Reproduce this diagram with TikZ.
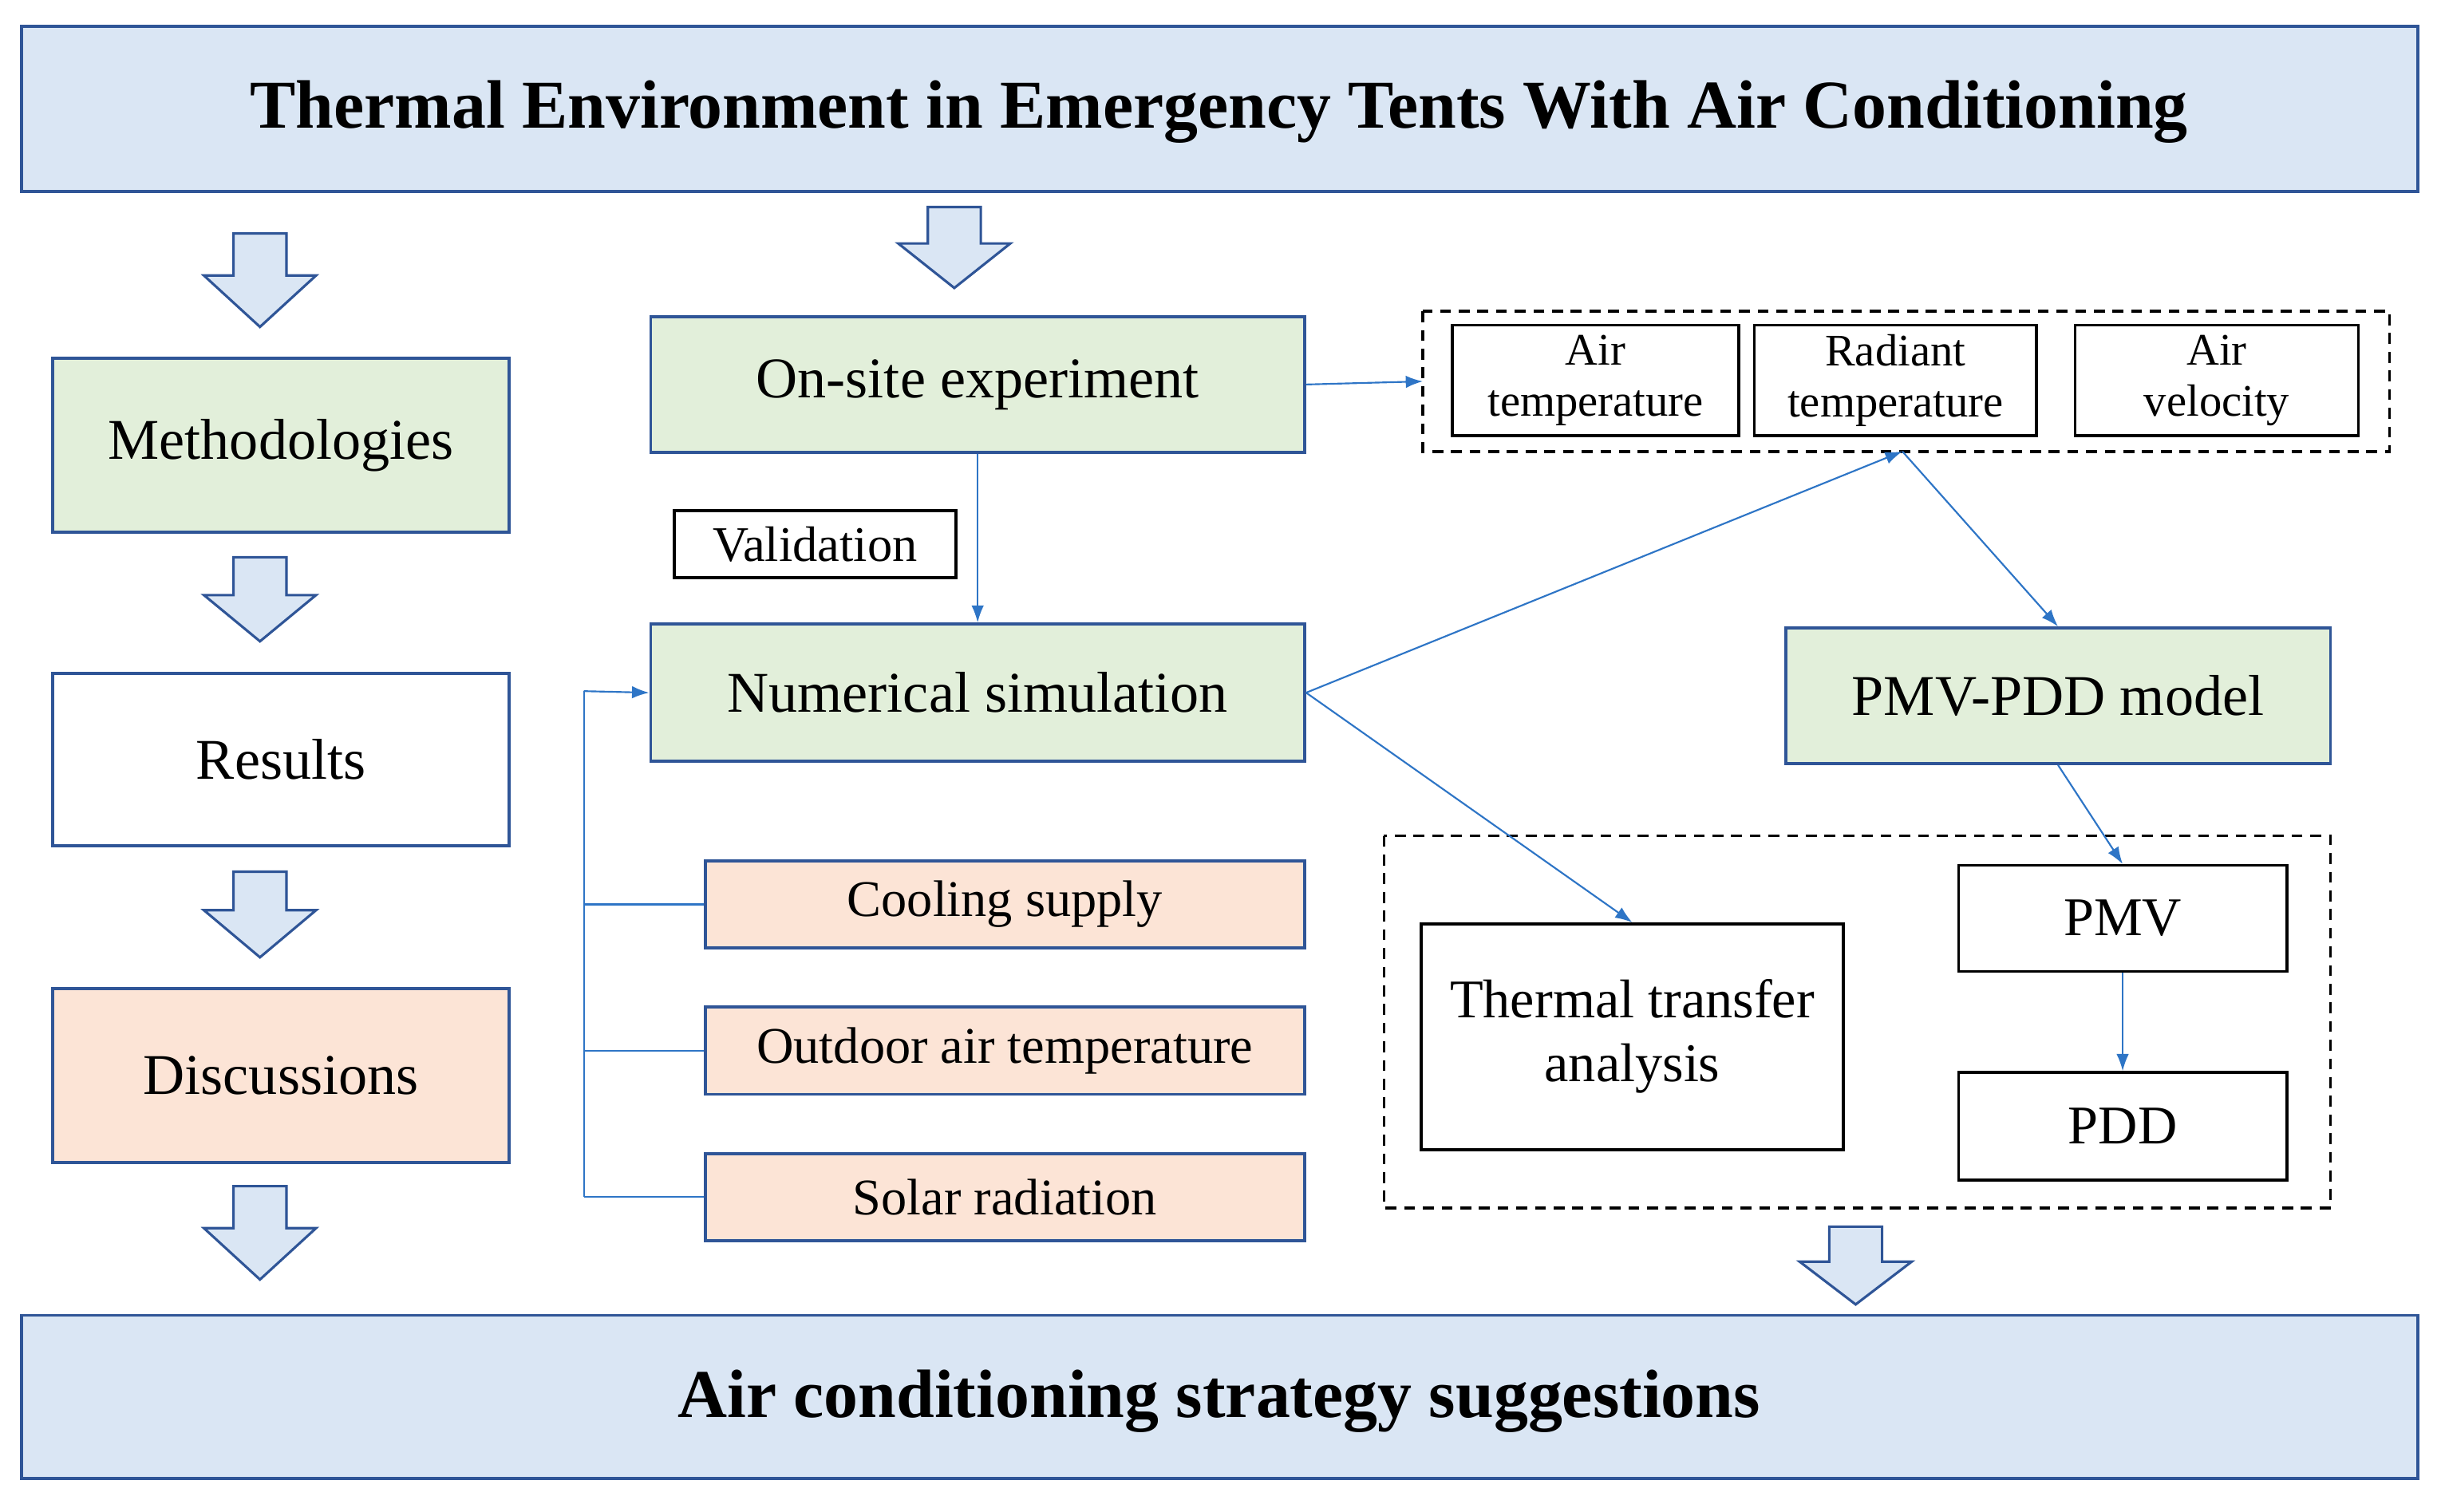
\documentclass[tikz,border=0pt]{standalone}
\usepackage{fontspec}
\setmainfont{Liberation Serif}
\usetikzlibrary{arrows.meta}
\definecolor{bb}{HTML}{2F5597}
\definecolor{lb}{HTML}{DAE6F4}
\definecolor{lg}{HTML}{E2EFDA}
\definecolor{lo}{HTML}{FCE4D6}
\definecolor{ln}{HTML}{2E75C6}
\tikzset{
 box/.style={draw=bb,line width=2pt,inner sep=0pt},
 wbox/.style={draw=black,line width=1.8pt,inner sep=0pt},
 big/.style={font=\fontsize{37}{40}\selectfont},
 small/.style={font=\fontsize{29}{30}\selectfont,align=center},
 conn/.style={draw=ln,line width=1.1pt,-{Latex[length=11pt,width=8pt]}},
 plain/.style={draw=ln,line width=1.1pt},
 dbox/.style={draw=black,line width=1.8pt,dash pattern=on 7pt off 5pt},
}
\newcommand{\barrow}[3]{% x, ytop, ybottom
 \draw[bb,line width=1.6pt,fill=lb] (#1-17,#2) -- (#1+17,#2) -- (#1+17,{#2+0.45*(#3-#2)}) -- (#1+36,{#2+0.45*(#3-#2)}) -- (#1,#3) -- (#1-36,{#2+0.45*(#3-#2)}) -- (#1-17,{#2+0.45*(#3-#2)}) -- cycle;}
\begin{document}
\begin{tikzpicture}[x=1pt,y=-1pt]
\useasboundingbox (0,0) rectangle (1568,971);
\draw[box,fill=lb] (14,17) rectangle (1553,123);
\node[font=\fontsize{44}{48}\selectfont\bfseries] (t) at (783,72) {Thermal Environment in Emergency Tents With Air Conditioning};
\draw[box,fill=lb] (14,845) rectangle (1553,950);
\node[font=\fontsize{44}{48}\selectfont\bfseries] (b) at (783,900) {Air conditioning strategy suggestions};

\node[box,fill=lg,big,minimum width=293pt,minimum height=112pt] (m) at (180.5,286) {Methodologies};
\node[box,fill=white,big,minimum width=293pt,minimum height=111pt] (r) at (180.5,488) {Results};
\node[box,fill=lo,big,minimum width=293pt,minimum height=112pt] (d) at (180.5,691) {Discussions};
\barrow{167}{150}{210}
\barrow{167}{358}{412}
\barrow{167}{560}{615}
\barrow{167}{762}{822}
\barrow{613}{133}{185}
\barrow{1192}{788}{838}

\node[box,fill=lg,big,minimum width=420pt,minimum height=87pt] (os) at (628,247) {On-site experiment};
\node[box,fill=lg,big,minimum width=420pt,minimum height=88pt] (ns) at (628,445) {Numerical simulation};
\node[wbox,font=\fontsize{32}{34}\selectfont,minimum width=181pt,minimum height=43pt] (v) at (523.5,349.5) {Validation};

\draw[dbox] (914,200) rectangle (1535,290);
\coordinate (dw) at (914,245);
\node[wbox,small,minimum width=184pt,minimum height=71pt] (at) at (1025,244.5) {Air\\[3pt]temperature};
\node[wbox,small,minimum width=181pt,minimum height=71pt] (rt) at (1217.5,244.5) {Radiant\\[3pt]temperature};
\node[wbox,small,minimum width=182pt,minimum height=71pt] (av) at (1424,244.5) {Air\\[3pt]velocity};
\coordinate (rb) at (1222,290);

\node[box,fill=lg,big,minimum width=350pt,minimum height=87pt] (pp) at (1322,447) {PMV-PDD model};
\draw[dbox] (889,537) rectangle (1497,776);
\node[wbox,big,align=center,minimum width=271pt,minimum height=145pt,font=\fontsize{35}{41}\selectfont] (tt) at (1048.5,666) {Thermal transfer\\analysis};
\node[wbox,big,minimum width=211pt,minimum height=68pt,font=\fontsize{35}{40}\selectfont] (pmv) at (1363.5,590) {PMV};
\node[wbox,big,minimum width=211pt,minimum height=69pt,font=\fontsize{35}{40}\selectfont] (pdd) at (1363.5,723.5) {PDD};

\node[box,fill=lo,font=\fontsize{33}{36}\selectfont,minimum width=385pt,minimum height=56pt] (c) at (645.5,581) {Cooling supply};
\node[box,fill=lo,font=\fontsize{33}{36}\selectfont,minimum width=385pt,minimum height=56pt] (o) at (645.5,675) {Outdoor air temperature};
\node[box,fill=lo,font=\fontsize{33}{36}\selectfont,minimum width=385pt,minimum height=56pt] (s) at (645.5,769) {Solar radiation};
\coordinate (k) at (375,444);
\coordinate (k2) at (375,769);
\draw[plain] (k2) -- (k);
\draw[plain] (c.west) -- (375,581);
\draw[plain] (o.west) -- (375,675);
\draw[plain] (s.west) -- (k2);
\draw[conn] (k) -- (ns.west);

\draw[conn] (os.east) -- (dw);
\draw[conn] (os.south) -- (ns.north);
\draw[conn] (ns.east) -- (rb);
\draw[conn] (rb) -- (pp.north);
\draw[conn] (ns.east) -- (tt.north);
\draw[conn] (pp.south) -- (pmv.north);
\draw[conn] (pmv.south) -- (pdd.north);
\end{tikzpicture}
\end{document}
